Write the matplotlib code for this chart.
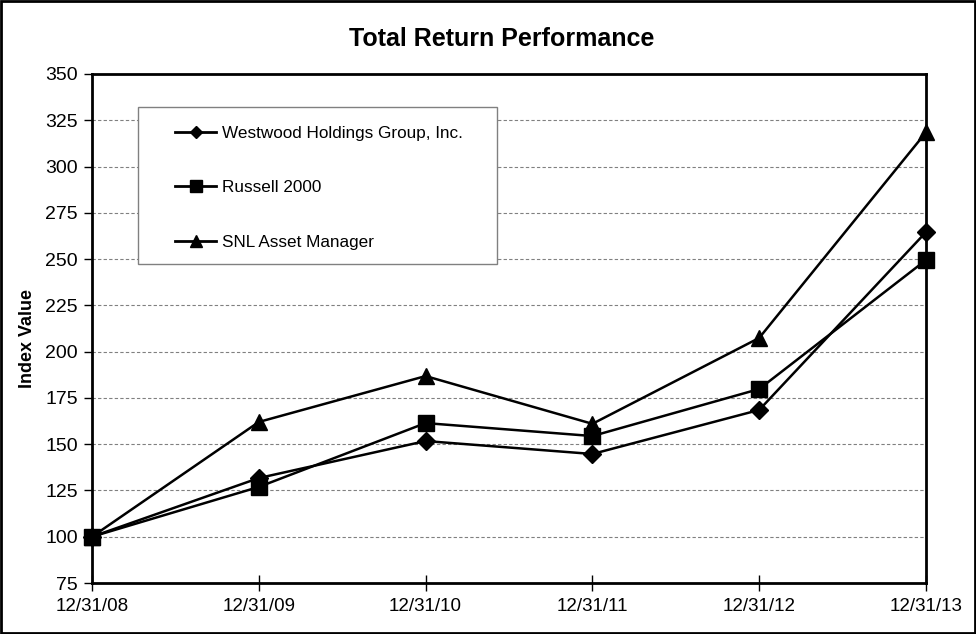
import matplotlib
matplotlib.use("Agg")
import matplotlib.pyplot as plt
from matplotlib.patches import Rectangle

plt.rcParams['font.family'] = ['Liberation Sans', 'DejaVu Sans']

dates = ["12/31/08", "12/31/09", "12/31/10", "12/31/11", "12/31/12", "12/31/13"]
westwood = [100, 131.7, 151.7, 144.7, 168.5, 264.6]
russell = [100, 126.9, 161.4, 154.4, 179.8, 249.5]
snl = [100, 162, 186.8, 161, 207.4, 318.5]
yticks = list(range(75, 351, 25))

W, H = 976, 634
L, R, T, B = 92, 926, 74, 583
fig = plt.figure(figsize=(W/100, H/100), dpi=100)
ax = fig.add_axes([L/W, 1-B/H, (R-L)/W, (B-T)/H])

def ax_xy(px, py):
    return ((px-L)/(R-L), (B-py)/(B-T))

x = list(range(len(dates)))
l1, = ax.plot(x, westwood, color='black', lw=1.8, marker='D', ms=9.5, label='Westwood Holdings Group, Inc.', clip_on=False, zorder=5)
l2, = ax.plot(x, russell, color='black', lw=1.8, marker='s', ms=11, label='Russell 2000', clip_on=False, zorder=5)
l3, = ax.plot(x, snl, color='black', lw=1.8, marker='^', ms=12, label='SNL Asset Manager', clip_on=False, zorder=5)

ax.set_xlim(0, 5)
ax.set_ylim(75, 350)
ax.set_yticks(yticks)
ax.set_xticks(x)
ax.set_xticklabels(dates)
ax.tick_params(axis='y', direction='out', length=6, width=1, labelsize=14, pad=4)
ax.tick_params(axis='x', direction='inout', length=12, width=1, labelsize=13.5, pad=5)
for s in ax.spines.values():
    s.set_linewidth(2)
ax.yaxis.grid(True, linestyle=(0, (3, 2)), color='#808080', lw=0.8)
ax.set_axisbelow(True)

ax.set_ylabel('Index Value', fontsize=13, fontweight='bold', va='center')
ax.yaxis.set_label_coords(ax_xy(28, 0)[0], ax_xy(0, 339)[1])
fig.text(502/W, 1-39/H, 'Total Return Performance', fontsize=18, fontweight='bold', ha='center', va='center')

# legend frame
bx0, by0 = ax_xy(138, 264)
bx1, by1 = ax_xy(497, 107)
ax.add_patch(Rectangle((bx0, by0), bx1-bx0, by1-by0, transform=ax.transAxes, facecolor='white',
                       edgecolor='#808080', lw=1, zorder=9, clip_on=False))
leg = ax.legend(handles=[l1, l2, l3], loc='upper left', bbox_to_anchor=ax_xy(175, 126),
                fontsize=12.3, frameon=False, borderpad=0, borderaxespad=0,
                labelspacing=2.3, handlelength=2.4, handletextpad=0.36)
leg.set_zorder(10)
for h, ms in zip(leg.legend_handles, [6, 8, 8.5]):
    h.set_linewidth(2)
    h.set_markersize(ms)

fig.add_artist(Rectangle((0.001, 0.001), 0.998, 0.997, transform=fig.transFigure, fill=False, edgecolor='black', lw=2))

fig.savefig('out.png', dpi=100)
